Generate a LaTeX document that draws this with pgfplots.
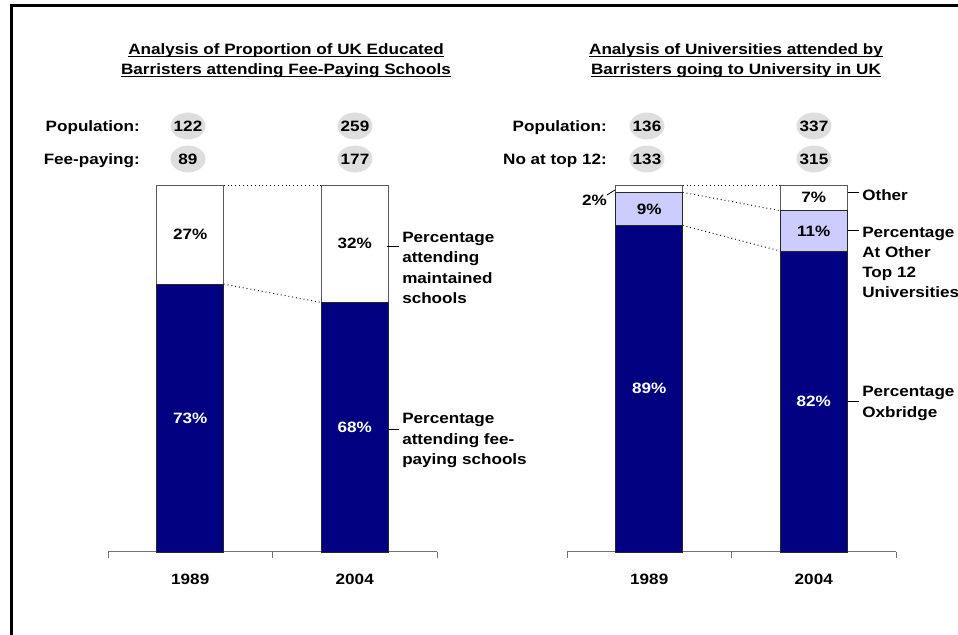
\documentclass[border=0pt]{standalone}
\usepackage{pgfplots}
\pgfplotsset{compat=1.18}
\usepackage{fontspec}
\setmainfont{Liberation Sans}[FakeStretch=1.14]
\definecolor{navy}{HTML}{000080}
\definecolor{lav}{HTML}{CCCCFF}
\definecolor{ell}{HTML}{DEDEDE}
\newcommand\f{\fontsize{11.25pt}{15pt}\selectfont\bfseries}
\newcommand\ul[1]{\setbox0\hbox{#1}\rlap{\rule[-2.1pt]{\wd0}{0.9pt}}\box0}
\tikzset{dots/.style={line width=0.7pt, dash pattern=on 0.7pt off 2.2pt}}
\pgfplotsset{
  mybar/.style={
    scale only axis, width=246.75pt, height=275.25pt,
    xmin=-0.5, xmax=1.5, ymin=0, ymax=100,
    axis x line*=bottom, axis y line=none,
    x axis line style={-, draw=black!55, line width=0.75pt},
    ybar stacked, bar width=50.25pt,
    xtick={-0.5,0.5,1.5}, xticklabels={},
    major tick length=4.5pt, tick align=outside,
    xtick style={draw=black!55, line width=0.75pt},
    extra x ticks={0,1}, extra x tick labels={1989,2004},
    extra x tick style={major tick length=0pt},
    xticklabel style={anchor=north, inner sep=0pt, yshift=-16pt, font=\f},
    clip=false,
  }
}
\begin{document}
\begin{tikzpicture}[x=0.75pt,y=0.75pt,font=\f,inner sep=0pt]
\useasboundingbox (0,0) rectangle (958,635);
\draw[line width=1.9pt] (11.3,-5) -- (11.3,629.3) -- (965,629.3);

% titles
\node[anchor=base] at (286,580.6) {\ul{Analysis of Proportion of UK Educated}};
\node[anchor=base] at (286,560.6) {\ul{Barristers attending Fee-Paying Schools}};
\node[anchor=base] at (736,580.6) {\ul{Analysis of Universities attended by}};
\node[anchor=base] at (736,560.6) {\ul{Barristers going to University in UK}};

% row labels
\node[anchor=base east] at (140,503.6) {Population:};
\node[anchor=base east] at (140,470.6) {Fee-paying:};
\node[anchor=base east] at (607,503.6) {Population:};
\node[anchor=base east] at (607,470.6) {No at top 12:};

% ellipses
\foreach \x/\y/\t in {188/509/122, 355/509/259, 188/476/89, 355/476/177,
                      647/509/136, 814/509/337, 647/476/133, 814/476/315}{
  \fill[ell] (\x,\y) ellipse [x radius=13.1pt, y radius=10.1pt];
  \node[anchor=base] at (\x,\y-5.4) {\t};
}

% left chart
\begin{axis}[mybar, at={(81pt,62.25pt)}, anchor=south west]
\addplot[fill=navy, draw=black!85, line width=0.6pt] coordinates {(0,73) (1,68)};
\addplot[fill=white, draw=black!65, line width=0.6pt] coordinates {(0,27) (1,32)};
\draw[dots] (axis cs:0.2036,100) -- (axis cs:0.7964,100);
\draw[dots] (axis cs:0.2036,73) -- (axis cs:0.7964,68);
\coordinate (a1) at (axis cs:0,86.5);
\coordinate (a2) at (axis cs:0,36.5);
\coordinate (a3) at (axis cs:1,84);
\coordinate (a4) at (axis cs:1,34);
\end{axis}
\node at (a1) {27\%};
\node[white] at (a2) {73\%};
\node at (a3) {32\%};
\node[white] at (a4) {68\%};

% right chart
\begin{axis}[mybar, at={(425.25pt,62.25pt)}, anchor=south west]
\addplot[fill=navy, draw=black!85, line width=0.6pt] coordinates {(0,89) (1,82)};
\addplot[fill=lav, draw=black!85, line width=0.6pt] coordinates {(0,9) (1,11)};
\addplot[fill=white, draw=black!65, line width=0.6pt] coordinates {(0,2) (1,7)};
\draw[dots] (axis cs:0.2036,100) -- (axis cs:0.7964,100);
\draw[dots] (axis cs:0.2036,98) -- (axis cs:0.7964,93);
\draw[dots] (axis cs:0.2036,89) -- (axis cs:0.7964,82);
\coordinate (b1) at (axis cs:0,93.5);
\coordinate (b2) at (axis cs:0,44.5);
\coordinate (b3) at (axis cs:1,96.5);
\coordinate (b4) at (axis cs:1,87.5);
\coordinate (b5) at (axis cs:1,41);
\end{axis}
\node at (b1) {9\%};
\node[white] at (b2) {89\%};
\node at (b3) {7\%};
\node at (b4) {11\%};
\node[white] at (b5) {82\%};

% annotations left
\draw[line width=0.75pt] (387,388) -- (399,388);
\node[anchor=base west] at (402,392.6) {Percentage};
\node[anchor=base west] at (402,372.3) {attending};
\node[anchor=base west] at (402,351.9) {maintained};
\node[anchor=base west] at (402,331.6) {schools};
\draw[line width=0.75pt] (388,205) -- (399,205);
\node[anchor=base west] at (402,211.6) {Percentage};
\node[anchor=base west] at (402,190.9) {attending fee-};
\node[anchor=base west] at (402,170.6) {paying schools};

% annotations right
\node[anchor=base east] at (607,429.6) {2\%};
\draw[line width=0.6pt] (607,440) -- (615,445);
\draw[line width=0.75pt] (848,442) -- (859,442);
\node[anchor=base west] at (862,434.6) {Other};
\draw[line width=0.75pt] (848,404) -- (859,404);
\node[anchor=base west] at (862,397.9) {Percentage};
\node[anchor=base west] at (862,377.9) {At Other};
\node[anchor=base west] at (862,357.9) {Top 12};
\node[anchor=base west] at (862,337.9) {Universities};
\draw[line width=0.75pt] (848,233) -- (859,233);
\node[anchor=base west] at (862,238.6) {Percentage};
\node[anchor=base west] at (862,217.6) {Oxbridge};
\end{tikzpicture}
\end{document}
